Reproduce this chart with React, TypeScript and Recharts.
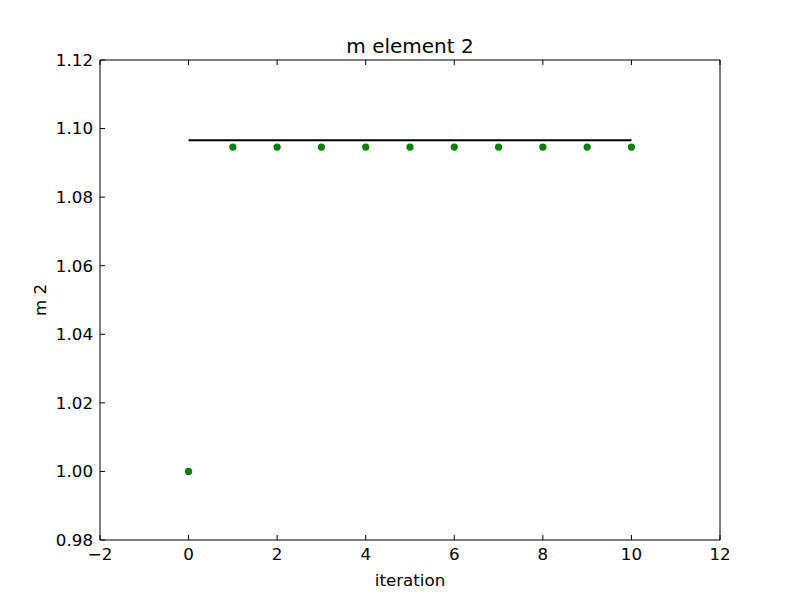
import { ComposedChart, Line, Scatter, XAxis, YAxis, Label } from "recharts";

// iteration index and m element 2 value at each step
const ITERATIONS = [0, 1, 2, 3, 4, 5, 6, 7, 8, 9, 10];
const M2_VALUES = [1.0, 1.0946, 1.0946, 1.0946, 1.0946, 1.0946, 1.0946, 1.0946, 1.0946, 1.0946, 1.0946];

// reference (true) value drawn as a flat line
const REF_X = [0, 10];
const REF_VALUE = 1.0966;

const X_TICKS = [-2, 0, 2, 4, 6, 8, 10, 12];
const Y_TICKS = [0.98, 1.0, 1.02, 1.04, 1.06, 1.08, 1.1, 1.12];

const points = ITERATIONS.map((x, i) => ({ x, m: M2_VALUES[i] }));
const refLine = REF_X.map((x) => ({ x, ref: REF_VALUE }));

const FONT = "'DejaVu Sans', sans-serif";
const FS = 16.7;
const TICK_LEN = 5;
const GAP = 7;

function fmtX(v: number) {
  return v < 0 ? `\u2212${Math.abs(v)}` : `${v}`;
}

// matplotlib classic: ticks point into the axes
function BottomTick(props: any) {
  const { x, y, payload } = props;
  return (
    <g>
      <line x1={x} y1={y - GAP} x2={x} y2={y - GAP - TICK_LEN} stroke="#000" />
      <text x={x} y={y} dy="0.8em" textAnchor="middle" fill="#000" fontSize={FS} fontFamily={FONT}>
        {fmtX(payload.value)}
      </text>
    </g>
  );
}

function LeftTick(props: any) {
  const { x, y, payload } = props;
  return (
    <g>
      <line x1={x + GAP} y1={y} x2={x + GAP + TICK_LEN} y2={y} stroke="#000" />
      <text x={x} y={y} dy="0.35em" textAnchor="end" fill="#000" fontSize={FS} fontFamily={FONT}>
        {payload.value.toFixed(2)}
      </text>
    </g>
  );
}

function TopTick(props: any) {
  const { x, y } = props;
  return <line x1={x} y1={y} x2={x} y2={y + TICK_LEN} stroke="#000" />;
}

function RightTick(props: any) {
  const { x, y } = props;
  return <line x1={x} y1={y} x2={x - TICK_LEN} y2={y} stroke="#000" />;
}

function Dot(props: any) {
  return <circle cx={props.cx} cy={props.cy} r={3.6} fill="#008000" />;
}

export default function App() {
  return (
    <div
      style={{
        position: "absolute",
        left: 0,
        top: 0,
        width: 800,
        height: 600,
        background: "#fff",
        fontFamily: FONT,
      }}
    >
      <div
        style={{
          position: "absolute",
          left: 100,
          width: 620,
          top: 35,
          textAlign: "center",
          fontSize: 20,
          lineHeight: "23px",
          color: "#000",
        }}
      >
        m element 2
      </div>
      <ComposedChart
        width={800}
        height={600}
        data={points}
        margin={{ top: 59, right: 79, bottom: 0, left: 0 }}
      >
        <XAxis
          xAxisId="bottom"
          dataKey="x"
          type="number"
          domain={[-2, 12]}
          ticks={X_TICKS}
          tick={<BottomTick />}
          tickLine={false}
          tickSize={0}
          tickMargin={GAP}
          height={60}
          axisLine={{ stroke: "#000" }}
        >
          <Label
            value="iteration"
            position="insideBottom"
            offset={14}
            style={{ fill: "#000", fontSize: FS, fontFamily: FONT }}
          />
        </XAxis>
        <XAxis
          xAxisId="top"
          orientation="top"
          dataKey="x"
          type="number"
          domain={[-2, 12]}
          ticks={X_TICKS}
          tick={<TopTick />}
          tickLine={false}
          tickSize={0}
          tickMargin={0}
          height={1}
          axisLine={{ stroke: "#000" }}
        />
        <YAxis
          yAxisId="left"
          type="number"
          domain={[0.98, 1.12]}
          ticks={Y_TICKS}
          tick={<LeftTick />}
          tickLine={false}
          tickSize={0}
          tickMargin={GAP}
          width={100}
          axisLine={{ stroke: "#000" }}
        >
          <Label
            value="m 2"
            angle={-90}
            position="insideLeft"
            offset={40}
            style={{ fill: "#000", fontSize: FS, fontFamily: FONT, textAnchor: "middle" }}
          />
        </YAxis>
        <YAxis
          yAxisId="right"
          orientation="right"
          type="number"
          domain={[0.98, 1.12]}
          ticks={Y_TICKS}
          tick={<RightTick />}
          tickLine={false}
          tickSize={0}
          tickMargin={0}
          width={1}
          axisLine={{ stroke: "#000" }}
        />
        <Line
          xAxisId="bottom"
          yAxisId="left"
          data={refLine}
          dataKey="ref"
          stroke="#000"
          strokeWidth={2.2}
          dot={false}
          isAnimationActive={false}
        />
        <Scatter
          xAxisId="bottom"
          yAxisId="left"
          dataKey="m"
          shape={Dot}
          isAnimationActive={false}
        />
      </ComposedChart>
    </div>
  );
}
